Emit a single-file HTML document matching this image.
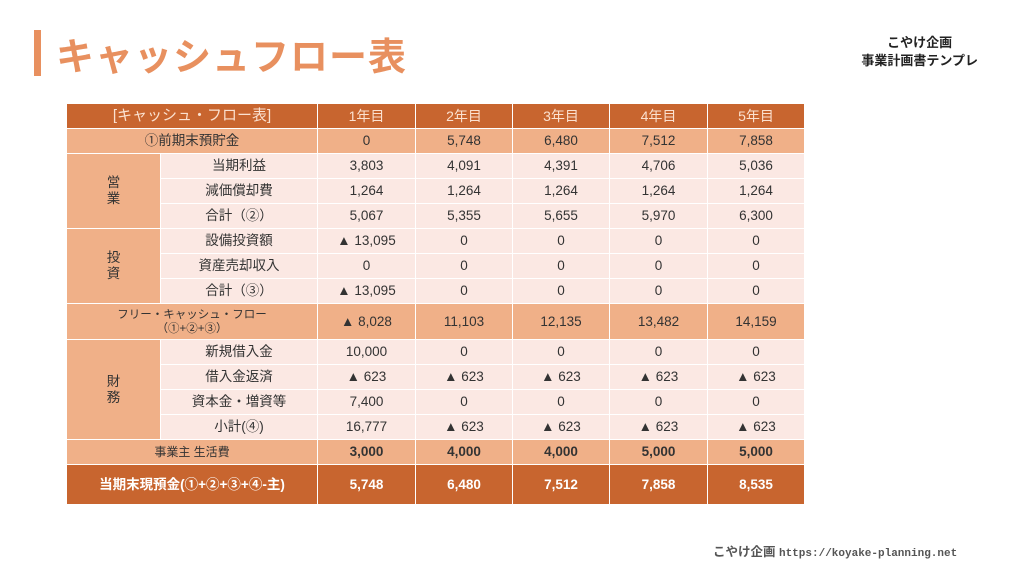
<!DOCTYPE html>
<html><head><meta charset="utf-8"><style>
body{margin:0;width:1024px;height:576px;background:#fff;position:relative;overflow:hidden;font-family:"Liberation Sans","Noto Sans CJK JP",sans-serif;color:#333}
.bar{position:absolute;left:34px;top:30px;width:7px;height:46px;background:#E8905F}
.title{position:absolute;left:56px;top:26px;font-size:38px;font-weight:bold;color:#E8905F;letter-spacing:1px}
.brand{position:absolute;right:46px;top:34px;text-align:center;font-size:13px;font-weight:bold;line-height:18px;color:#222}
.foot{position:absolute;left:713px;top:541px;font-size:12.5px;color:#555;font-weight:bold;white-space:nowrap}
.foot span{font-family:"Liberation Mono",monospace;font-size:11px}
table{position:absolute;left:66px;top:103px;border-collapse:separate;border-spacing:1px;table-layout:fixed;background:#fff}
td{padding:0;text-align:center;font-size:13.5px;height:24px;line-height:16px}
.h td{background:#C8652F;color:#fbe1d0;font-size:14px}
.o td{background:#F0B088}
.p{background:#FBE8E3}
.g{background:#F0B088}
.t td{background:#C8652F;color:#fff;font-weight:bold;height:39px}
.b td{font-weight:bold}
.b td:first-child{font-weight:normal;font-size:12px}
</style></head><body>
<div class="bar"></div><div class="title">キャッシュフロー表</div>
<div class="brand">こやけ企画<br>事業計画書テンプレ</div>
<table>
<colgroup><col style="width:93px"><col style="width:156px"><col style="width:97px"><col style="width:96px"><col style="width:96px"><col style="width:97px"><col style="width:96px"></colgroup>
<tr class="h"><td colspan="2" style="font-size:15px">[キャッシュ・フロー表]</td><td>1年目</td><td>2年目</td><td>3年目</td><td>4年目</td><td>5年目</td></tr>
<tr class="o"><td colspan="2">①前期末預貯金</td><td>0</td><td>5,748</td><td>6,480</td><td>7,512</td><td>7,858</td></tr>
<tr><td rowspan="3" class="g">営<br>業</td><td class="p">当期利益</td><td class="p">3,803</td><td class="p">4,091</td><td class="p">4,391</td><td class="p">4,706</td><td class="p">5,036</td></tr>
<tr><td class="p">減価償却費</td><td class="p">1,264</td><td class="p">1,264</td><td class="p">1,264</td><td class="p">1,264</td><td class="p">1,264</td></tr>
<tr><td class="p">合計（②）</td><td class="p">5,067</td><td class="p">5,355</td><td class="p">5,655</td><td class="p">5,970</td><td class="p">6,300</td></tr>
<tr><td rowspan="3" class="g">投<br>資</td><td class="p">設備投資額</td><td class="p">▲ 13,095</td><td class="p">0</td><td class="p">0</td><td class="p">0</td><td class="p">0</td></tr>
<tr><td class="p">資産売却収入</td><td class="p">0</td><td class="p">0</td><td class="p">0</td><td class="p">0</td><td class="p">0</td></tr>
<tr><td class="p">合計（③）</td><td class="p">▲ 13,095</td><td class="p">0</td><td class="p">0</td><td class="p">0</td><td class="p">0</td></tr>
<tr class="o"><td colspan="2" style="height:35px;font-size:11.5px;line-height:14px">フリー・キャッシュ・フロー<br>（①+②+③）</td><td>▲ 8,028</td><td>11,103</td><td>12,135</td><td>13,482</td><td>14,159</td></tr>
<tr><td rowspan="4" class="g">財<br>務</td><td class="p">新規借入金</td><td class="p">10,000</td><td class="p">0</td><td class="p">0</td><td class="p">0</td><td class="p">0</td></tr>
<tr><td class="p">借入金返済</td><td class="p">▲ 623</td><td class="p">▲ 623</td><td class="p">▲ 623</td><td class="p">▲ 623</td><td class="p">▲ 623</td></tr>
<tr><td class="p">資本金・増資等</td><td class="p">7,400</td><td class="p">0</td><td class="p">0</td><td class="p">0</td><td class="p">0</td></tr>
<tr><td class="p">小計(④)</td><td class="p">16,777</td><td class="p">▲ 623</td><td class="p">▲ 623</td><td class="p">▲ 623</td><td class="p">▲ 623</td></tr>
<tr class="o b"><td colspan="2">事業主 生活費</td><td>3,000</td><td>4,000</td><td>4,000</td><td>5,000</td><td>5,000</td></tr>
<tr class="t"><td colspan="2">当期末現預金(①+②+③+④-主)</td><td>5,748</td><td>6,480</td><td>7,512</td><td>7,858</td><td>8,535</td></tr>
</table>
<div class="foot">こやけ企画 <span>https://koyake-planning.net</span></div>
</body></html>
